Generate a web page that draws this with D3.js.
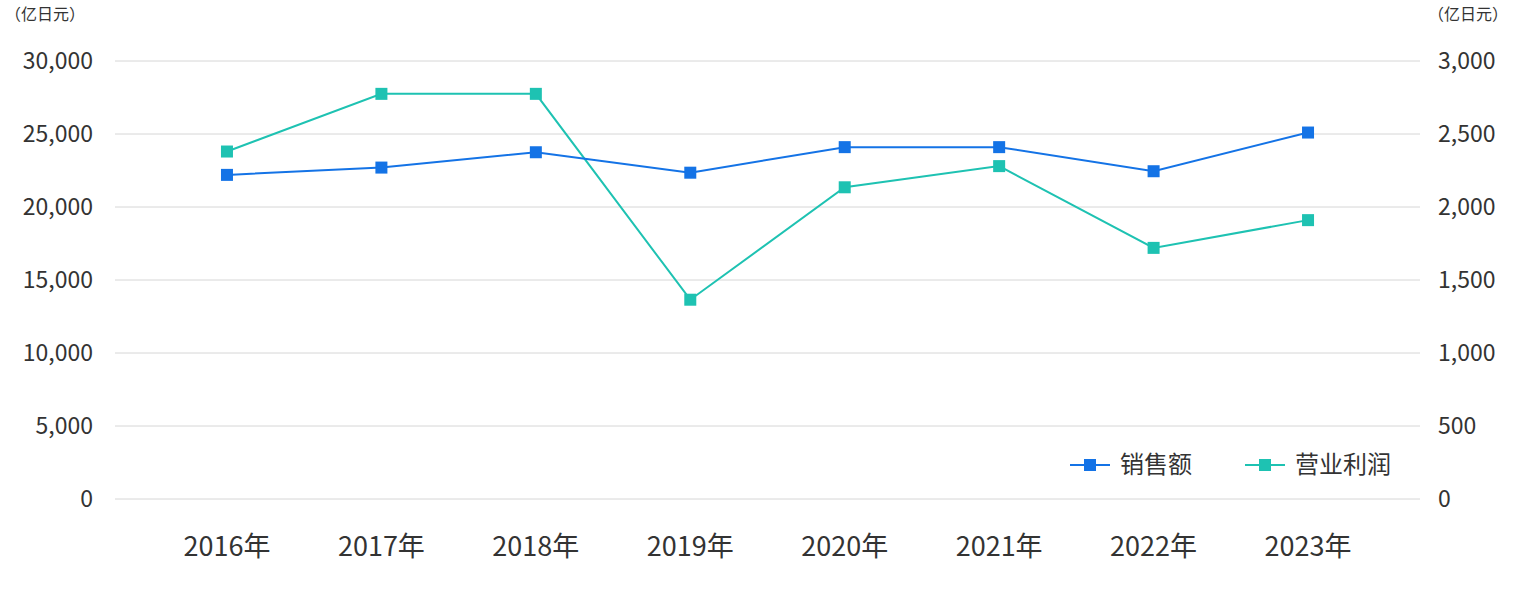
<!DOCTYPE html>
<html>
<head>
<meta charset="utf-8">
<script src="https://cdnjs.cloudflare.com/ajax/libs/d3/7.8.5/d3.min.js"></script>
<style>
  html, body { margin: 0; padding: 0; background: #fff; }
  svg { display: block; font-family: "Noto Sans CJK SC", "Noto Sans", sans-serif; }
  .tick text { fill: #333; }
</style>
</head>
<body>
<svg id="chart" width="1521" height="589"></svg>
<script>
var years = ['2016年','2017年','2018年','2019年','2020年','2021年','2022年','2023年'];
var sales = [22200, 22700, 23750, 22350, 24100, 24100, 22450, 25100];
var profit = [2380, 2775, 2775, 1365, 2135, 2280, 1720, 1910];
var leftTicks = [0, 5000, 10000, 15000, 20000, 25000, 30000];
var rightTicks = [0, 500, 1000, 1500, 2000, 2500, 3000];

var svg = d3.select('#chart');
var x0 = 115, x1 = 1420, yTop = 61, yBot = 499;

var x = d3.scalePoint().domain(years).range([x0, x1]).padding(0.725);
var yL = d3.scaleLinear().domain([0, 30000]).range([yBot, yTop]);
var yR = d3.scaleLinear().domain([0, 3000]).range([yBot, yTop]);
var fmt = d3.format(',');

// grid
svg.append('g').selectAll('line').data(leftTicks).join('line')
    .attr('x1', x0).attr('x2', x1)
    .attr('y1', d => yL(d)).attr('y2', d => yL(d))
    .attr('stroke', '#d6d6d6').attr('stroke-width', 1);

// axes labels
svg.append('g').selectAll('text').data(leftTicks).join('text')
    .attr('x', 93).attr('y', d => yL(d)).attr('dy', '0.35em')
    .attr('text-anchor', 'end').attr('font-size', 23).attr('fill', '#333')
    .text(d => fmt(d));
svg.append('g').selectAll('text').data(rightTicks).join('text')
    .attr('x', 1438).attr('y', d => yR(d)).attr('dy', '0.35em')
    .attr('text-anchor', 'start').attr('font-size', 23).attr('fill', '#333')
    .text(d => fmt(d));
svg.append('g').selectAll('text').data(years).join('text')
    .attr('x', d => x(d)).attr('y', 556)
    .attr('text-anchor', 'middle').attr('font-size', 27).attr('fill', '#333')
    .text(d => d);

svg.append('text').attr('x', 5).attr('y', 20).attr('font-size', 16).attr('fill', '#333').text('（亿日元）');
svg.append('text').attr('x', 1428).attr('y', 20).attr('font-size', 16).attr('fill', '#333').text('（亿日元）');

function series(vals, scale, color) {
    var line = d3.line().x((d, i) => x(years[i])).y(d => scale(d));
    svg.append('path').datum(vals).attr('d', line)
        .attr('fill', 'none').attr('stroke', color).attr('stroke-width', 2);
    svg.append('g').selectAll('rect').data(vals).join('rect')
        .attr('x', (d, i) => x(years[i]) - 6).attr('y', d => scale(d) - 6)
        .attr('width', 12).attr('height', 12).attr('fill', color);
}
series(profit, yR, '#1ec2b2');
series(sales, yL, '#1473e6');

// legend
var legend = [{name: '销售额', color: '#1473e6', x: 1070}, {name: '营业利润', color: '#1ec2b2', x: 1245}];
var lg = svg.append('g').selectAll('g').data(legend).join('g')
    .attr('transform', d => 'translate(' + d.x + ',465)');
lg.append('line').attr('x1', 0).attr('x2', 40).attr('stroke', d => d.color).attr('stroke-width', 2);
lg.append('rect').attr('x', 14).attr('y', -6).attr('width', 12).attr('height', 12).attr('fill', d => d.color);
lg.append('text').attr('x', 50).attr('dy', '0.35em').attr('font-size', 24).attr('fill', '#333').text(d => d.name);
</script>
</body>
</html>
